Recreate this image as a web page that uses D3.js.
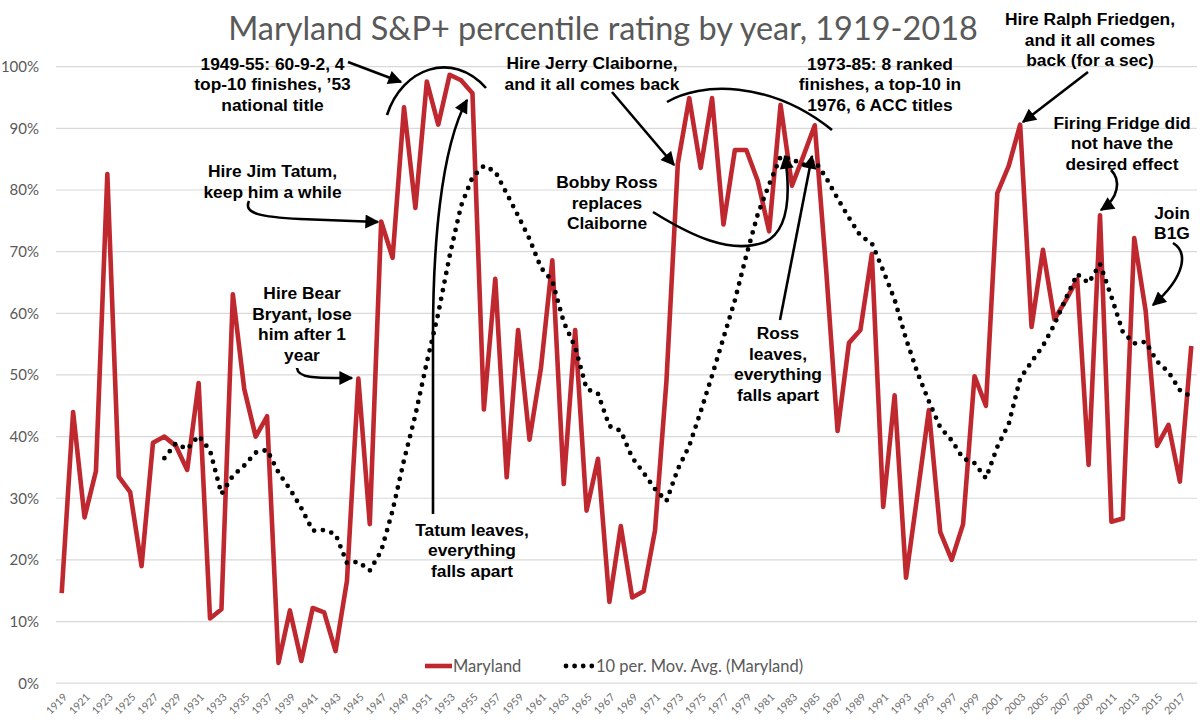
<!DOCTYPE html>
<html><head><meta charset="utf-8">
<script src="https://cdn.jsdelivr.net/npm/d3@7/dist/d3.min.js"></script>
<style>body{margin:0;background:#fff}svg{display:block}</style>
</head><body>
<svg id="chart" width="1200" height="726"></svg>
<script>
// ---------- data ----------
const years = d3.range(1919, 2019);
const ratings = [
  14.6, 44.0, 26.9, 34.4, 82.6, 33.5, 31.0, 19.0, 39.0, 40.0,   // 1919-1928
  38.5, 34.6, 48.7, 10.5, 12.0, 63.1, 47.7, 40.0, 43.3, 3.3,    // 1929-1938
  11.8, 3.6, 12.2, 11.5, 5.2, 16.6, 49.4, 25.8, 74.9, 69.0,     // 1939-1948
  93.4, 77.1, 97.6, 90.6, 98.7, 97.8, 95.7, 44.4, 65.6, 33.4,   // 1949-1958
  57.3, 39.5, 51.1, 68.6, 32.3, 57.3, 28.0, 36.4, 13.2, 25.5,   // 1959-1968
  13.9, 14.9, 24.8, 49.0, 84.3, 94.9, 83.6, 94.9, 74.4, 86.5,   // 1969-1978
  86.5, 81.5, 73.3, 93.8, 80.7, 85.5, 90.5, 67.0, 40.9, 55.2,   // 1979-1988
  57.3, 69.6, 28.6, 46.7, 17.1, 30.6, 44.3, 24.5, 20.0, 25.8,   // 1989-1998
  49.8, 45.0, 79.5, 83.9, 90.6, 57.8, 70.3, 59.0, 62.1, 65.5,   // 1999-2008
  35.4, 75.9, 26.2, 26.7, 72.2, 60.4, 38.5, 41.9, 32.7, 54.7    // 2009-2018
];
const maPeriod = 10;
const yTicks = [0, 10, 20, 30, 40, 50, 60, 70, 80, 90, 100];
const xTickYears = years.filter((d, i) => i % 2 === 0);
const seriesName = "Maryland";
const maName = "10 per. Mov. Avg. (Maryland)";
const titleText = "Maryland S&P+ percentile rating by year, 1919-2018";

// Excel-style trailing moving average of the series
const movingAvg = ratings.map((v, i) => i < maPeriod - 1 ? null : d3.mean(ratings.slice(i - maPeriod + 1, i + 1)));

const annotations = [
  {x: 272.5, y: 63.5, lines: ["1949-55: 60-9-2, 4", "top-10 finishes, \u201953", "national title"]},
  {x: 272.5, y: 171, lines: ["Hire Jim Tatum,", "keep him a while"]},
  {x: 302, y: 293, lines: ["Hire Bear", "Bryant, lose", "him after 1", "year"]},
  {x: 472, y: 529.6, lines: ["Tatum leaves,", "everything", "falls apart"]},
  {x: 592, y: 63, lines: ["Hire Jerry Claiborne,", "and it all comes back"]},
  {x: 880, y: 63.5, lines: ["1973-85: 8 ranked", "finishes, a top-10 in", "1976, 6 ACC titles"]},
  {x: 607, y: 182, lines: ["Bobby Ross", "replaces", "Claiborne"]},
  {x: 778, y: 333, lines: ["Ross", "leaves,", "everything", "falls apart"]},
  {x: 1090, y: 19, lines: ["Hire Ralph Friedgen,", "and it all comes", "back (for a sec)"]},
  {x: 1122, y: 122.5, lines: ["Firing Fridge did", "not have the", "desired effect"]},
  {x: 1172, y: 212.5, lines: ["Join", "B1G"]}
];
const arrows = [
  "M348,62 L401,82",
  "M249,201 C243,214 262,217 300,219 L378,222",
  "M297,368 C298,379 318,378 352,378",
  "M433,514 L433,335 C433,250 440,150 467,100",
  "M612,92 L674,165",
  "M653,212 C690,235 730,255 765,242 C790,230 790,190 785,156",
  "M780,320 L812,156",
  "M1088,72 L1023,122",
  "M1111,170 C1121,180 1119,198 1101,210",
  "M1173,243 C1188,252 1186,276 1153,305"
];
const arcs = [
  "M387,115 C402,68 452,50 486,88",
  "M667,102 C700,82 770,80 832,130"
];

// ---------- layout ----------
const svg = d3.select("#chart");
const plot = {left: 56, right: 1197, top: 66.7, bottom: 683.2};
const red = "#C0282F";
const gray = "#595959";

const x = d3.scalePoint().domain(years).range([plot.left, plot.right]).padding(0.5);
const y = d3.scaleLinear().domain([0, 100]).range([plot.bottom, plot.top]);

svg.append("rect").attr("width", 1200).attr("height", 726).attr("fill", "#fff");

// gridlines
svg.append("g").selectAll("line").data(yTicks).join("line")
  .attr("x1", plot.left).attr("x2", plot.right)
  .attr("y1", d => y(d)).attr("y2", d => y(d))
  .attr("stroke", "#d9d9d9").attr("stroke-width", 1.2);

// y axis
const yAxis = svg.append("g").attr("transform", `translate(${plot.left - 17},0)`)
  .call(d3.axisLeft(y).tickValues(yTicks).tickFormat(d => d + "%").tickSize(0).tickPadding(0));
yAxis.select(".domain").remove();
yAxis.selectAll("text").attr("fill", gray).style("font-family", "Lato, 'Open Sans', sans-serif").style("font-size", "15px");

// x axis
const xAxis = svg.append("g").attr("transform", `translate(0,${plot.bottom})`)
  .call(d3.axisBottom(x).tickValues(xTickYears).tickSize(0).tickPadding(0));
xAxis.select(".domain").remove();
xAxis.selectAll("text")
  .attr("fill", "#6a6a6a")
  .style("font-family", "Lato, 'Open Sans', sans-serif").style("font-size", "10.5px")
  .attr("text-anchor", "end")
  .attr("dy", "0.35em")
  .attr("transform", d => `translate(3,12) rotate(-45)`);

// series line
const line = d3.line().x((d, i) => x(years[i])).y(d => y(d));
svg.append("path").datum(ratings)
  .attr("fill", "none").attr("stroke", red).attr("stroke-width", 4.6)
  .attr("stroke-linejoin", "round")
  .attr("d", line);

// moving average (dotted)
const maLine = d3.line().defined(d => d != null).x((d, i) => x(years[i])).y(d => y(d));
svg.append("path").datum(movingAvg)
  .attr("fill", "none").attr("stroke", "#000").attr("stroke-width", 4.8)
  .attr("stroke-linecap", "round").attr("stroke-dasharray", "0 8.8")
  .attr("d", maLine);

// title
const title = svg.append("text").attr("x", 603).attr("y", 40)
  .attr("text-anchor", "middle").attr("fill", gray)
  .style("font-family", "Lato, 'Open Sans', sans-serif").style("font-size", "30px")
  .text(titleText);
const tw = title.node().getComputedTextLength();
title.style("font-size", (30 * 750 / tw).toFixed(2) + "px");

// legend
const lg = svg.append("g");
lg.append("line").attr("x1", 425).attr("x2", 452).attr("y1", 666).attr("y2", 666)
  .attr("stroke", red).attr("stroke-width", 4.6);
lg.append("text").attr("x", 453).attr("y", 666).attr("dy", "0.35em").attr("fill", gray)
  .style("font-family", "Lato, 'Open Sans', sans-serif").style("font-size", "16.5px").text(seriesName);
lg.append("line").attr("x1", 566).attr("x2", 592).attr("y1", 666).attr("y2", 666)
  .attr("stroke", "#000").attr("stroke-width", 4.8).attr("stroke-linecap", "round").attr("stroke-dasharray", "0 8.6");
lg.append("text").attr("x", 596).attr("y", 666).attr("dy", "0.35em").attr("fill", gray)
  .style("font-family", "Lato, 'Open Sans', sans-serif").style("font-size", "16.5px").text(maName);

// arrow marker
svg.append("defs").append("marker")
  .attr("id", "ah").attr("markerUnits", "userSpaceOnUse")
  .attr("viewBox", "0 0 10 10").attr("refX", 9).attr("refY", 5)
  .attr("markerWidth", 15).attr("markerHeight", 14).attr("orient", "auto")
  .append("path").attr("d", "M0,0 L10,5 L0,10 z").attr("fill", "#000");

svg.append("g").selectAll("path").data(arcs).join("path")
  .attr("d", d => d).attr("fill", "none").attr("stroke", "#000").attr("stroke-width", 2.6);
svg.append("g").selectAll("path").data(arrows).join("path")
  .attr("d", d => d).attr("fill", "none").attr("stroke", "#000").attr("stroke-width", 2.6)
  .attr("marker-end", "url(#ah)");

// annotation texts
const ag = svg.append("g")
  .style("font-family", "'Liberation Sans', Arial, sans-serif")
  .style("font-weight", "bold").style("font-size", "17.4px").attr("fill", "#000");
annotations.forEach(a => {
  const t = ag.append("text").attr("text-anchor", "middle");
  a.lines.forEach((l, i) => {
    t.append("tspan").attr("x", a.x).attr("y", a.y + i * 20.5).attr("dy", "0.36em").text(l);
  });
});
</script>
</body></html>
